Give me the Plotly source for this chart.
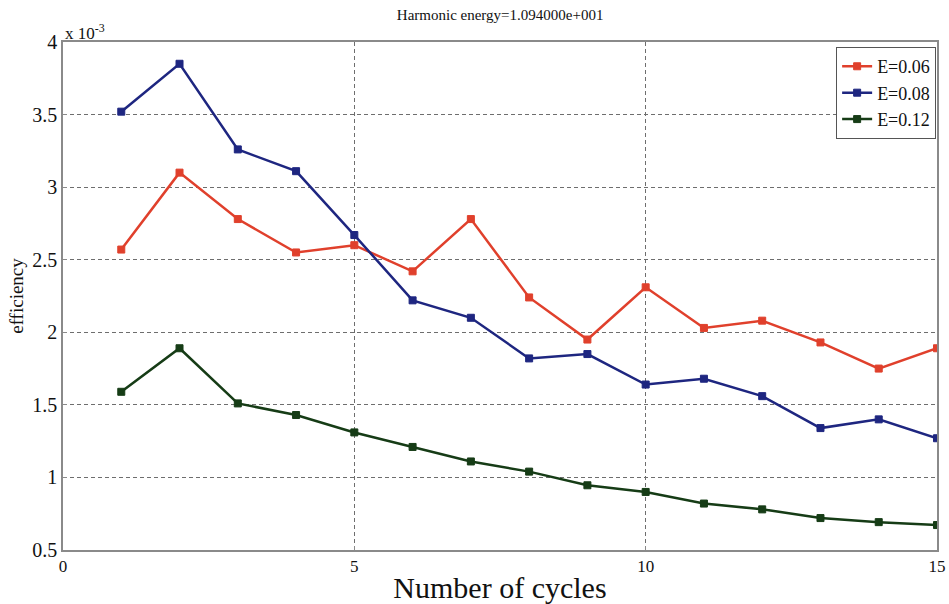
import plotly.graph_objects as go

# Efficiency (in units of 1e-3) versus number of cycles for three E values
cycles = list(range(1, 16))
eff_e006 = [2.57, 3.10, 2.78, 2.55, 2.60, 2.42, 2.78, 2.24, 1.95, 2.31, 2.03, 2.08, 1.93, 1.75, 1.89]
eff_e008 = [3.52, 3.85, 3.26, 3.11, 2.67, 2.22, 2.10, 1.82, 1.85, 1.64, 1.68, 1.56, 1.34, 1.40, 1.27]
eff_e012 = [1.59, 1.89, 1.51, 1.43, 1.31, 1.21, 1.11, 1.04, 0.946, 0.90, 0.82, 0.78, 0.72, 0.692, 0.672]

series_names = ["E=0.06", "E=0.08", "E=0.12"]
series_colors = ["#e0402c", "#1e2680", "#163c16"]
y_ticks = [0.5, 1, 1.5, 2, 2.5, 3, 3.5, 4]
y_tick_text = ["0.5", "1", "1.5", "2", "2.5", "3", "3.5", "4"]
x_ticks = [0, 5, 10, 15]

FONT = "Liberation Serif, Times New Roman, serif"

fig = go.Figure()
for name, vals, col in zip(series_names, [eff_e006, eff_e008, eff_e012], series_colors):
    fig.add_trace(go.Scatter(
        x=cycles, y=vals, name=name, mode="lines+markers",
        line=dict(color=col, width=2.5),
        marker=dict(symbol="square", size=7, color=col, line=dict(color=col, width=1)),
    ))

axis_common = dict(
    showline=True, linecolor="#8a8a8a", linewidth=1.5, mirror=True,
    showgrid=True, gridcolor="#6e6e6e", griddash="4px,3px", gridwidth=1,
    zeroline=False, ticks="inside", ticklen=4, tickcolor="#8a8a8a",
    automargin=False,
)

fig.update_layout(
    width=949, height=604,
    margin=dict(l=63, r=12, t=42, b=54),
    paper_bgcolor="white", plot_bgcolor="white",
    font=dict(family=FONT, color="#111"),
    title=dict(text="Harmonic energy=1.094000e+001", x=0.527, xanchor="center",
               y=0.975, yanchor="middle", font=dict(family=FONT, size=15, color="#111")),
    xaxis=dict(range=[0, 15], tickvals=x_ticks,
               tickfont=dict(family=FONT, size=17, color="#111"),
               title=dict(text="Number of cycles", font=dict(family=FONT, size=30, color="#111"),
                          standoff=2),
               **axis_common),
    yaxis=dict(range=[0.5, 4], tickvals=y_ticks, ticktext=y_tick_text,
               tickfont=dict(family=FONT, size=20, color="#111"),
               title=dict(text="efficiency", font=dict(family=FONT, size=19, color="#111"),
                          standoff=4),
               **axis_common),
    legend=dict(x=0.999, xanchor="right", y=0.99, yanchor="top",
                bgcolor="white", bordercolor="#555", borderwidth=1,
                font=dict(family=FONT, size=18, color="#111"),
                tracegroupgap=0, itemwidth=30),
    showlegend=True,
)

# exponent marker for the y axis
fig.add_annotation(xref="paper", yref="paper", x=0.0, y=1.0, xanchor="left", yanchor="bottom",
                   text="x 10<sup>-3</sup>", showarrow=False, xshift=0, yshift=-3,
                   font=dict(family=FONT, size=17, color="#111"))

fig.write_html("out.html")
